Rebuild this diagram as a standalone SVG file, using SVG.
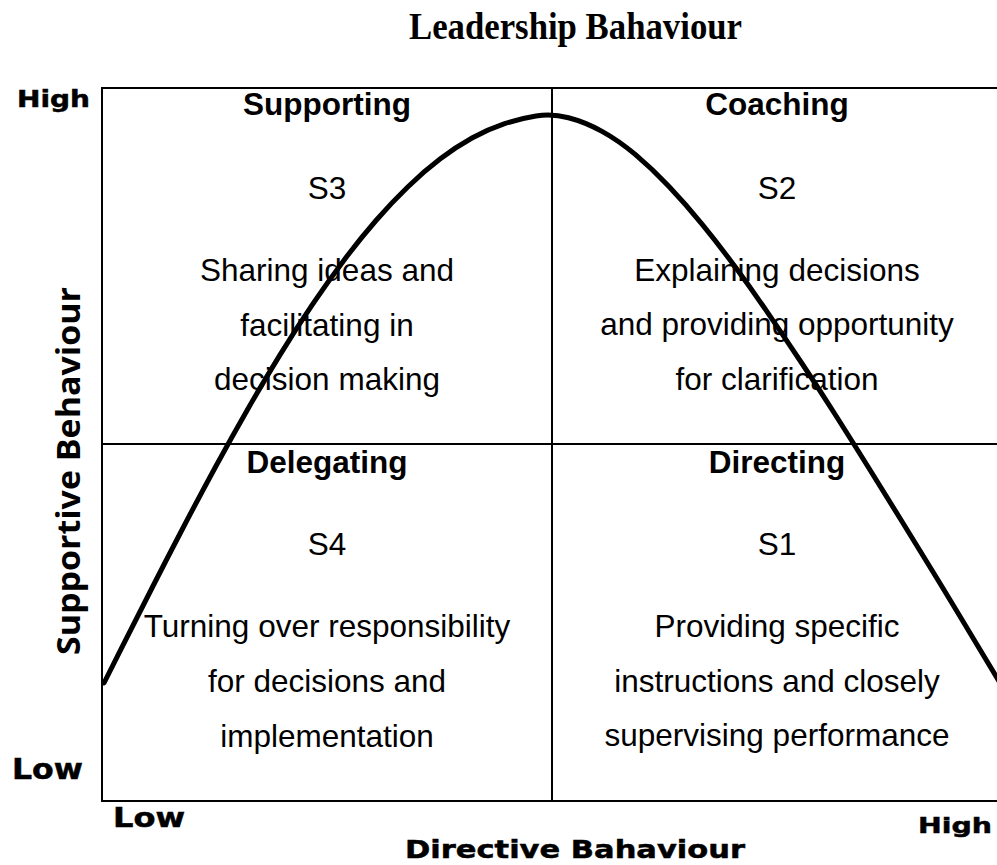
<svg xmlns="http://www.w3.org/2000/svg" width="997" height="865" viewBox="0 0 997 865">
  <style>
    .title { font-family: "Liberation Serif", "Times New Roman", serif; font-weight: bold; font-size: 38px; fill: #000; }
    .axis { font-family: "DejaVu Sans", "Verdana", sans-serif; font-weight: bold; fill: #000; stroke: #000; stroke-width: 0.5; }
    .yaxis { font-family: "Open Sans", "Liberation Sans", sans-serif; font-weight: bold; font-size: 32px; fill: #000; }
    .head { font-family: "Liberation Sans", Arial, sans-serif; font-weight: bold; font-size: 31.5px; fill: #000; text-anchor: middle; }
    .body { font-family: "Liberation Sans", Arial, sans-serif; font-size: 31.5px; fill: #000; text-anchor: middle; }
    .grid { stroke: #000; stroke-width: 2; fill: none; }
    .curve { stroke: #000; stroke-width: 5; fill: none; stroke-linejoin: round; stroke-linecap: round; }
  </style>

  <rect x="0" y="0" width="997" height="865" fill="#fff"/>

  <!-- Title -->
  <text class="title" x="575.5" y="39" text-anchor="middle" textLength="333" lengthAdjust="spacingAndGlyphs">Leadership Bahaviour</text>

  <!-- Quadrant grid (open on the right edge) -->
  <g id="grid">
    <path class="grid" d="M998,88 H102 V801 H998"/>
    <line class="grid" x1="552" y1="88" x2="552" y2="801"/>
    <line class="grid" x1="102" y1="444" x2="998" y2="444"/>
  </g>

  <!-- Axis labels -->
  <g id="axis-labels">
    <text class="axis" x="17" y="107" font-size="23" textLength="73" lengthAdjust="spacingAndGlyphs">High</text>
    <text class="axis" x="12" y="779" font-size="29" textLength="71" lengthAdjust="spacingAndGlyphs">Low</text>
    <text class="axis" x="113" y="827" font-size="26" textLength="72" lengthAdjust="spacingAndGlyphs">Low</text>
    <text class="axis" x="918" y="833" font-size="22" textLength="74" lengthAdjust="spacingAndGlyphs">High</text>
    <text class="axis" x="575" y="858" font-size="25" text-anchor="middle" textLength="340" lengthAdjust="spacingAndGlyphs">Directive Bahaviour</text>
    <text class="yaxis" transform="translate(80,471) rotate(-90)" x="0" y="0" text-anchor="middle" textLength="368" lengthAdjust="spacingAndGlyphs">Supportive Behaviour</text>
  </g>

  <!-- Quadrants -->
  <g id="supporting">
    <text class="head" x="327" y="115">Supporting</text>
    <text class="body" x="327" y="199">S3</text>
    <text class="body" x="327" y="281">Sharing ideas and</text>
    <text class="body" x="327" y="336">facilitating in</text>
    <text class="body" x="327" y="390">decision making</text>
  </g>
  <g id="coaching">
    <text class="head" x="777" y="115">Coaching</text>
    <text class="body" x="777" y="199">S2</text>
    <text class="body" x="777" y="281">Explaining decisions</text>
    <text class="body" x="777" y="335">and providing opportunity</text>
    <text class="body" x="777" y="390">for clarification</text>
  </g>
  <g id="delegating">
    <text class="head" x="327" y="473">Delegating</text>
    <text class="body" x="327" y="555">S4</text>
    <text class="body" x="327" y="637">Turning over responsibility</text>
    <text class="body" x="327" y="692">for decisions and</text>
    <text class="body" x="327" y="747">implementation</text>
  </g>
  <g id="directing">
    <text class="head" x="777" y="473">Directing</text>
    <text class="body" x="777" y="555">S1</text>
    <text class="body" x="777" y="637">Providing specific</text>
    <text class="body" x="777" y="692">instructions and closely</text>
    <text class="body" x="777" y="746">supervising performance</text>
  </g>

  <!-- Bell-shaped leadership curve (smoothed through sample points) -->
  <g id="connectors">
    <path class="curve" d="M104,683 L120,651.2 Q136,619.4 152,588 Q168,556.6 184,526 Q200,495.4 216,466 Q232,436.6 248,408.7 Q264,380.8 280,354.85 Q296,328.9 312,305.15 Q328,281.4 344,260.15 Q360,238.9 376,220.5 Q392,202.1 408,186.7 Q424,171.3 440,159.1 Q456,146.9 472,138.05 Q488,129.2 504,123.9 Q520,118.6 536,116.05 Q552,113.5 568.5,117.75 Q585,122 602,131.35 Q619,140.7 635.5,154.7 Q652,168.7 668.5,186.05 Q685,203.4 702,224.15 Q719,244.9 735.5,267.35 Q752,289.8 768.5,313.9 Q785,338 802,363.5 Q819,389 835.5,415 Q852,441 868.5,467.5 Q885,494 902,521.5 Q919,549 935.5,576 Q952,603 974.5,640.5 Q997,678 1001,684.5 L1005,691"/>
  </g>
</svg>
